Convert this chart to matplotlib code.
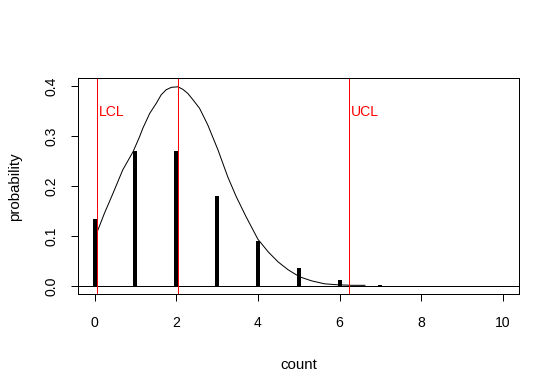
import matplotlib
matplotlib.use("Agg")
import matplotlib.pyplot as plt

plt.rcParams['font.family'] = ['Liberation Sans', 'DejaVu Sans']
plt.rcParams['font.size'] = 14

# Poisson probabilities (vertical bars)
counts = [0, 1, 2, 3, 4, 5, 6, 7, 8, 9, 10]
probs = [0.1353, 0.2707, 0.2707, 0.1804, 0.0902, 0.0361, 0.0120, 0.0034, 0.0009, 0.0002, 0.00004]

# approximating curve
curve_x = [0.054, 0.24, 0.45, 0.69, 0.94, 1.10, 1.18, 1.35, 1.51, 1.63, 1.75, 1.88, 2.04, 2.16,
           2.28, 2.41, 2.57, 2.77, 3.02, 3.26, 3.47, 3.71, 4.0, 4.25, 4.49, 4.74, 5.02, 5.31,
           5.63, 5.96, 6.3, 6.62]
curve_y = [0.107, 0.146, 0.186, 0.233, 0.269, 0.299, 0.316, 0.346, 0.366, 0.383, 0.393, 0.398, 0.399, 0.394,
           0.386, 0.373, 0.356, 0.323, 0.273, 0.219, 0.179, 0.139, 0.094, 0.069, 0.049, 0.033, 0.019, 0.011,
           0.005, 0.003, 0.002, 0.002]

# control limits and centre line
lcl = 0.054
centre = 2.04
ucl = 6.23
label_y = 0.348

xticks = [0, 2, 4, 6, 8, 10]
yticks = [0.0, 0.1, 0.2, 0.3, 0.4]

fig = plt.figure(figsize=(560 / 72, 392 / 72), dpi=72)
ax = fig.add_axes([0.1398, 0.2492, 0.7875, 0.5510])

ax.vlines(counts, 0, probs, colors='black', linewidth=4, capstyle='butt')
ax.plot(curve_x, curve_y, color='black', linewidth=1)
ax.axhline(0, color='black', linewidth=1)
for xv in (lcl, centre, ucl):
    ax.axvline(xv, color='#FF0000', linewidth=1)
ax.text(lcl + 0.04, label_y, 'LCL', color='#FF0000', va='center', ha='left')
ax.text(ucl + 0.04, label_y, 'UCL', color='#FF0000', va='center', ha='left')

ax.set_xlim(-0.4, 10.4)
ax.set_ylim(-0.016, 0.416)
ax.set_xticks(xticks)
ax.set_xticklabels([str(t) for t in xticks])
ax.set_yticks(yticks)
ax.set_yticklabels(['%.1f' % t for t in yticks], rotation=90, va='center')
ax.tick_params(direction='out', length=7, width=1, labelsize=14)
ax.tick_params(axis='x', pad=15)
ax.tick_params(axis='y', pad=13)
for s in ax.spines.values():
    s.set_linewidth(1)

ax.set_xlabel('count', fontsize=15, labelpad=28)
ax.set_ylabel('probability', fontsize=15, labelpad=22)

fig.savefig('out.png', dpi=72)
